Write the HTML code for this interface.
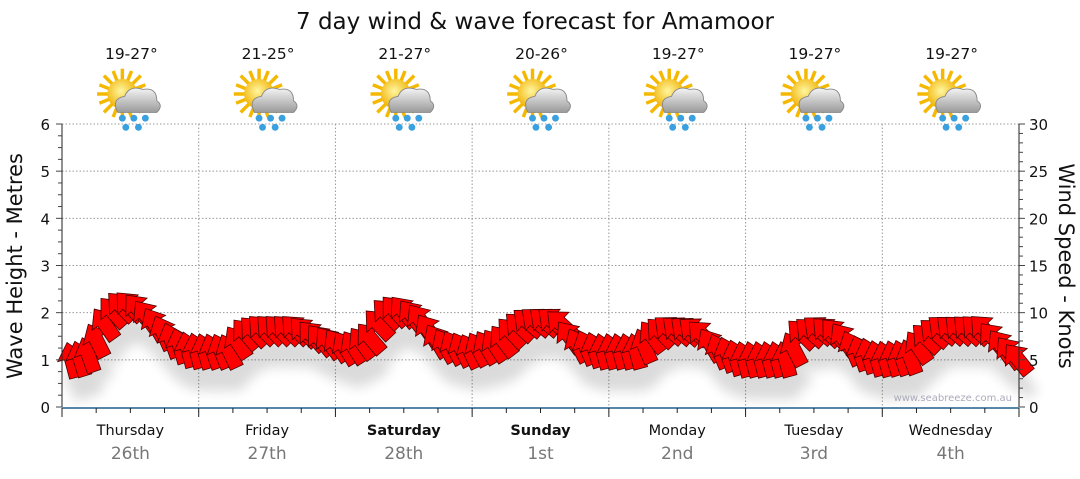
<!DOCTYPE html>
<html><head><meta charset="utf-8"><style>
body{margin:0;background:#fff;width:1080px;height:475px;overflow:hidden;font-family:"DejaVu Sans",sans-serif}
</style></head><body>
<svg id="s" width="1080" height="475" xmlns="http://www.w3.org/2000/svg" font-family="DejaVu Sans, sans-serif">
<defs>
<filter id="sh" x="-50%" y="-50%" width="200%" height="200%"><feGaussianBlur stdDeviation="6"/></filter>
<radialGradient id="sun" cx="0.45" cy="0.4" r="0.6"><stop offset="0" stop-color="#fff6a0"/><stop offset="1" stop-color="#f0b000"/></radialGradient>
<linearGradient id="cl" x1="0" y1="0" x2="0" y2="1"><stop offset="0" stop-color="#f4f4f4"/><stop offset="1" stop-color="#9a9a9a"/></linearGradient>
<g id="icon">
<g stroke="#f5b800" stroke-width="3">
<line x1="0" y1="-22" x2="0" y2="22"/><line x1="-22" y1="0" x2="22" y2="0"/><line x1="-16" y1="-16" x2="16" y2="16"/><line x1="-16" y1="16" x2="16" y2="-16"/>
<line x1="-8" y1="-20" x2="8" y2="20"/><line x1="-20" y1="-8" x2="20" y2="8"/><line x1="-20" y1="8" x2="20" y2="-8"/><line x1="-8" y1="20" x2="8" y2="-20"/></g>
<circle r="13" fill="url(#sun)"/>
<path d="M-4,16 q-6,-12 6,-14 q4,-10 16,-6 q12,-2 12,10 q6,4 0,10 z" fill="url(#cl)" stroke="#888" stroke-width="0.8"/>
<g fill="#3aa0e0"><circle cx="0" cy="21" r="3"/><circle cx="10" cy="21" r="3"/><circle cx="20" cy="21" r="3"/><circle cx="3" cy="29" r="3"/><circle cx="14" cy="29" r="3"/></g>
</g>
</defs>
<text x="535" y="29" font-size="23" text-anchor="middle" fill="#111">7 day wind &amp; wave forecast for Amamoor</text>
<g id="grid" stroke="#999" stroke-dasharray="1.5,2" stroke-width="1"></g>
<g id="shadow" filter="url(#sh)" fill="#000" opacity="0.14"></g>
<g id="arrows" fill="#ff0000" stroke="#4a0000" stroke-width="0.8" stroke-linejoin="miter"></g>
<g id="axes"></g>
<text x="1012" y="401" font-size="10" fill="#aab" text-anchor="end">www.seabreeze.com.au</text>
<text transform="translate(22,266) rotate(-90)" font-size="21" text-anchor="middle" fill="#111">Wave Height - Metres</text>
<text transform="translate(1059,266) rotate(90)" font-size="21" text-anchor="middle" fill="#111">Wind Speed - Knots</text>
</svg>
<script>
var ns="http://www.w3.org/2000/svg",s=document.getElementById('s');
function el(p,t,a,txt){var e=document.createElementNS(ns,t);for(var k in a)e.setAttribute(k,a[k]);if(txt!==undefined)e.textContent=txt;p.appendChild(e);return e;}
var L=62,R=1019,T=124,B=407,dw=(R-L)/7;
var g=document.getElementById('grid'),ax=document.getElementById('axes');
for(var i=1;i<=6;i++){var y=B-i*(B-T)/6;el(g,'line',{x1:L,x2:R,y1:y,y2:y});}
for(var d=1;d<7;d++){var x=L+d*dw;el(g,'line',{x1:x,x2:x,y1:T,y2:B+6});}
el(ax,'line',{x1:L,x2:L,y1:T,y2:B,stroke:'#222'});
el(ax,'line',{x1:R,x2:R,y1:T,y2:B,stroke:'#222'});
el(ax,'line',{x1:L,x2:R,y1:B+1,y2:B+1,stroke:'#1f5f8b','stroke-width':1.5});
for(var i=0;i<=24;i++){var y=B-i*(B-T)/24;el(ax,'line',{x1:L-(i%4?4:6),x2:L,y1:y,y2:y,stroke:'#444'});}
for(var i=0;i<=6;i++){var y=B-i*(B-T)/6;el(ax,'text',{x:L-12,y:y+6,'font-size':15,'text-anchor':'end',fill:'#111'},i);}
for(var i=0;i<=30;i++){var y=B-i*(B-T)/30;el(ax,'line',{x1:R,x2:R+(i%5?4:6),y1:y,y2:y,stroke:'#444'});}
for(var i=0;i<=6;i++){var y=B-i*(B-T)/6;el(ax,'text',{x:R+10,y:y+6,'font-size':15,fill:'#111'},i*5);}
for(var i=0;i<=28;i++){var x=L+i*dw/4;el(ax,'line',{x1:x,x2:x,y1:B+1,y2:B+(i%4?6:10),stroke:'#222'});}
var days=['Thursday','Friday','Saturday','Sunday','Monday','Tuesday','Wednesday'],dates=['26th','27th','28th','1st','2nd','3rd','4th'],temps=['19-27°','21-25°','21-27°','20-26°','19-27°','19-27°','19-27°'];
for(var d=0;d<7;d++){var cx=L+(d+0.5)*dw;
el(s,'text',{x:cx,y:435,'font-size':14.5,'text-anchor':'middle',fill:'#111','font-weight':(d==2||d==3)?'bold':'normal'},days[d]);
el(s,'text',{x:cx,y:459,'font-size':17,'text-anchor':'middle',fill:'#777'},dates[d]);
el(s,'text',{x:cx+1,y:59,'font-size':15.5,'text-anchor':'middle',fill:'#111'},temps[d]);
el(s,'use',{href:'#icon',transform:'translate('+(cx-8)+',94) scale(1.15)'});}
var kp=[[55,355,-15],[75,362,-15],[90,355,-20],[100,335,-30],[110,315,-40],[125,305,-45],[140,310,-40],[155,325,-30],[170,340,-20],[185,350,-15],[200,352,-15],[230,352,-25],[245,335,-40],[260,330,-45],[300,330,-45],[320,340,-40],[350,350,-30],[370,340,-40],[385,315,-45],[400,310,-40],[420,320,-35],[440,345,-30],[470,352,-25],[500,345,-35],[515,330,-45],[530,322,-50],[560,322,-50],[575,345,-30],[600,352,-15],[640,352,-15],[655,335,-40],[670,330,-50],[700,332,-50],[715,350,-25],[740,360,-15],[790,360,-15],[800,335,-45],[820,330,-50],[840,335,-40],[855,352,-20],[880,360,-15],[910,358,-20],[925,340,-45],[940,330,-50],[985,330,-45],[1000,345,-35],[1025,365,-40]];
function interp(x){for(var i=0;i<kp.length-1;i++){if(x<=kp[i+1][0]){var a=kp[i],b=kp[i+1],t=(x-a[0])/(b[0]-a[0]);return [a[1]+(b[1]-a[1])*t,a[2]+(b[2]-a[2])*t];}}return [kp[kp.length-1][1],kp[kp.length-1][2]];}
var ap="M0,-19 L14,-3 L7,-3 L7,17 L-7,17 L-7,-3 L-14,-3 Z";
var A=document.getElementById('arrows'),S=document.getElementById('shadow');
for(var x=72;x<=1022;x+=8.3){var v=interp(x);
el(S,'path',{d:ap,transform:'translate('+(x+4)+','+(v[0]+22)+') rotate('+v[1]+')'});
el(A,'path',{d:ap,transform:'translate('+x+','+v[0]+') rotate('+v[1]+')'});}
</script>
</body></html>
